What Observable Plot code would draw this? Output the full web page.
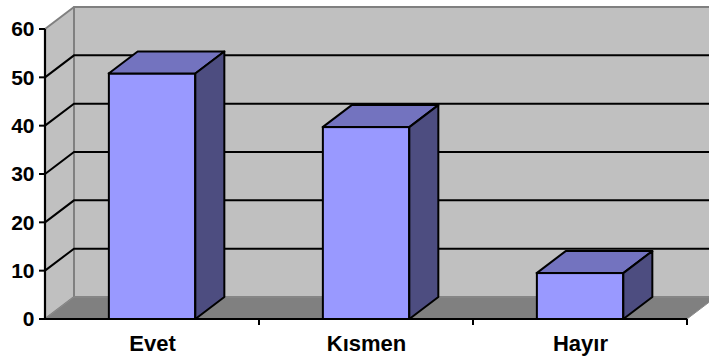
<!DOCTYPE html>
<html>
<head>
<meta charset="utf-8">
<script src="https://cdn.jsdelivr.net/npm/d3@7"></script>
<script src="https://cdn.jsdelivr.net/npm/@observablehq/plot@0.6"></script>
<style>
  html, body { margin: 0; padding: 0; background: white; }
  #chart svg text {
    font-family: 'Liberation Sans', Arial, sans-serif !important;
    font-size: 21px !important;
    font-weight: bold !important;
    fill: black;
  }
  #chart svg [aria-label^="x-axis"] text { font-size: 22px !important; }
</style>
</head>
<body>
<div id="chart"></div>
<script>
// ---- data ----
const categories = ["Evet", "Kısmen", "Hayır"];
const values = [50.8, 39.7, 9.5];
const yTicks = [0, 10, 20, 30, 40, 50, 60];
const gridTicks = [10, 20, 30, 40, 50];
const yDomain = [0, 60];

const rows = categories.map((c, i) => ({category: c, value: values[i]}));

// ---- 3D styling constants ----
const DX = 29, DY = -22;      // depth offset in pixels
const BAR_FRAC = 0.405;       // bar width as a fraction of the category band
const WALL = "#c0c0c0", WALL_EDGE = "#808080", FLOOR = "#808080";
const FRONT = "#9999ff", TOP = "#7373bf", SIDE = "#4d4d80";

function addPoly(g, pts, fill, stroke, sw) {
  g.append("polygon")
    .attr("points", pts.map(p => p.join(",")).join(" "))
    .attr("fill", fill)
    .attr("stroke", stroke || "none")
    .attr("stroke-width", sw || 0)
    .attr("stroke-linejoin", "round");
}

// walls, floor, gridlines, axis lines and ticks — positioned through Plot's scales
function scene(index, scales) {
  const x = scales.x, y = scales.y;
  const bw = x.bandwidth();
  const L = x(categories[0]);
  const R = x(categories[categories.length - 1]) + bw;
  const Y0 = y(yDomain[0]), Y1 = y(yDomain[1]);
  const g = d3.create("svg:g");
  addPoly(g, [[L, Y0], [L, Y1], [L + DX, Y1 + DY], [L + DX, Y0 + DY]], WALL, WALL_EDGE, 2);
  addPoly(g, [[L + DX, Y0 + DY], [L + DX, Y1 + DY], [R + DX, Y1 + DY], [R + DX, Y0 + DY]], WALL, WALL_EDGE, 2);
  addPoly(g, [[L, Y0], [R, Y0], [R + DX, Y0 + DY], [L + DX, Y0 + DY]], FLOOR, "#8c8c8c", 1);
  for (const t of gridTicks) {
    const yy = y(t);
    g.append("path")
      .attr("d", `M${L},${yy}L${L + DX},${yy + DY}H${R + DX}`)
      .attr("fill", "none").attr("stroke", "black").attr("stroke-width", 2);
  }
  g.append("path").attr("d", `M${L},${Y1}V${Y0 + 1}`)
    .attr("stroke", "black").attr("stroke-width", 2.2);
  for (const t of yTicks) {
    const yy = y(t);
    g.append("path").attr("d", `M${L - 6},${yy}H${L}`)
      .attr("stroke", "black").attr("stroke-width", 2);
  }
  g.append("path").attr("d", `M${L - 1},${Y0}H${R}`)
    .attr("stroke", "black").attr("stroke-width", 2.2);
  for (const c of categories) {
    const xb = x(c) + bw;
    g.append("path").attr("d", `M${xb},${Y0}V${Y0 + 6}`)
      .attr("stroke", "black").attr("stroke-width", 2);
  }
  return g.node();
}

function barFaces(index, scales) {
  const x = scales.x, y = scales.y;
  const bw = x.bandwidth();
  const g = d3.create("svg:g");
  const Y0 = y(0);
  rows.forEach(d => {
    const x1 = x(d.category) + bw * (1 - BAR_FRAC) / 2;
    const x2 = x1 + bw * BAR_FRAC;
    const yv = y(d.value);
    addPoly(g, [[x1, yv], [x2, yv], [x2 + DX, yv + DY], [x1 + DX, yv + DY]], TOP, "black", 2);
    addPoly(g, [[x2, yv], [x2 + DX, yv + DY], [x2 + DX, Y0 + DY], [x2, Y0]], SIDE, "black", 2);
  });
  return g.node();
}

const inset = 214.7 * (1 - BAR_FRAC) / 2;

const chart = Plot.plot({
  width: 709,
  height: 360,
  marginLeft: 44,
  marginRight: 21,
  marginTop: 29,
  marginBottom: 41,
  style: {
    fontFamily: "'Liberation Sans', Arial, sans-serif",
    fontSize: "21px",
    fontWeight: "bold",
    background: "white",
    color: "black"
  },
  x: {domain: categories, padding: 0, label: null, tickSize: 0, tickPadding: 16},
  y: {domain: yDomain, ticks: yTicks, label: null, tickSize: 0, tickPadding: 10},
  marks: [
    scene,
    Plot.barY(rows, {
      x: "category", y: "value",
      fill: FRONT, stroke: "black", strokeWidth: 2,
      insetLeft: inset, insetRight: inset
    }),
    barFaces
  ]
});

document.getElementById("chart").appendChild(chart);
</script>
</body>
</html>
